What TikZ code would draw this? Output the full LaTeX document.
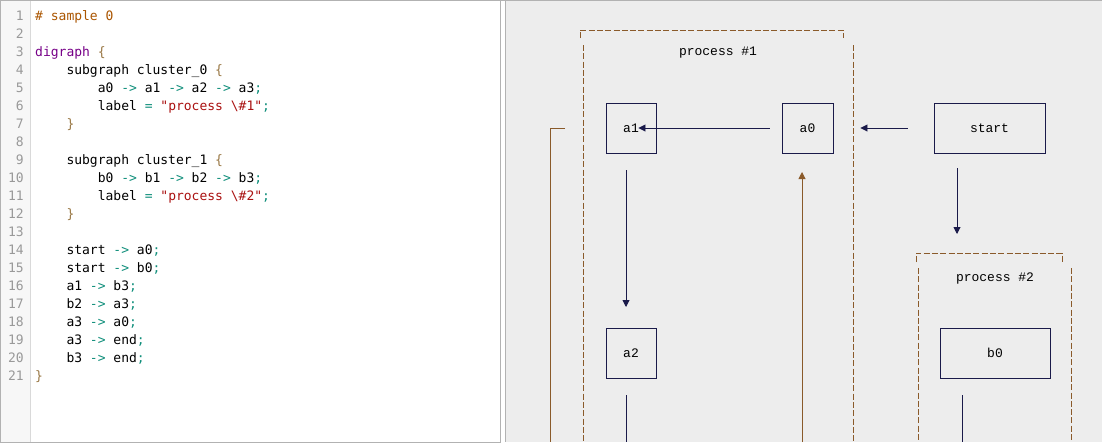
\documentclass[tikz,border=0pt]{standalone}
\usepackage{fontspec}
\setmonofont{DejaVu Sans Mono}
\newfontfamily\artfont{Liberation Mono}
\usetikzlibrary{arrows.meta}
\definecolor{cmt}{HTML}{AA5500}
\definecolor{kw}{HTML}{770088}
\definecolor{brc}{HTML}{997744}
\definecolor{op}{HTML}{0E8E7A}
\definecolor{str}{HTML}{AA1111}
\definecolor{gut}{HTML}{999999}
\definecolor{ink}{HTML}{1A1A4A}
\definecolor{brn}{HTML}{8A5A2A}
\tikzset{
 code/.style={anchor=base west,inner sep=0pt,font=\ttfamily\fontsize{13}{13}\selectfont},
 lnum/.style={anchor=base east,inner sep=0pt,text=gut,font=\ttfamily\fontsize{13}{13}\selectfont},
 art/.style={inner sep=0pt,font=\artfont\fontsize{13}{13}\selectfont},
 nbox/.style={draw=ink,line width=0.9pt,art},
 edge/.style={draw=ink,line width=0.9pt},
 lng/.style={draw=brn,line width=0.9pt},
 clus/.style={draw=brn,line width=0.8pt,dash pattern=on 6pt off 2.3pt},
 tip/.style={-{Triangle[length=7pt,width=7pt]}}
}
\begin{document}
\begin{tikzpicture}[x=1pt,y=-1pt]
\useasboundingbox (0,0) rectangle (1102,442);
% editor
\fill[white] (0,0) rectangle (500,442);
\fill[gray!6] (0,0) rectangle (30,442);
\draw[gray!30] (30,0) -- (30,442);
\draw[gray!60] (0.5,0.5) rectangle (500,442);
\foreach \n in {1,...,21}{\node[lnum] (ln\n) at (24,{20+(\n-1)*18}) {\n};}
\newcommand\cl[2]{\node[code] at (35,{20+(#1-1)*18}) {#2};}
\cl{1}{\textcolor{cmt}{\# sample 0}}
\cl{3}{\textcolor{kw}{digraph} \textcolor{brc}{\{}}
\cl{4}{\ \ \ \ subgraph cluster\_0 \textcolor{brc}{\{}}
\cl{5}{\ \ \ \ \ \ \ \ a0 \textcolor{op}{->} a1 \textcolor{op}{->} a2 \textcolor{op}{->} a3\textcolor{op}{;}}
\cl{6}{\ \ \ \ \ \ \ \ label \textcolor{op}{=} \textcolor{str}{"process \textbackslash\#1"}\textcolor{op}{;}}
\cl{7}{\ \ \ \ \textcolor{brc}{\}}}
\cl{9}{\ \ \ \ subgraph cluster\_1 \textcolor{brc}{\{}}
\cl{10}{\ \ \ \ \ \ \ \ b0 \textcolor{op}{->} b1 \textcolor{op}{->} b2 \textcolor{op}{->} b3\textcolor{op}{;}}
\cl{11}{\ \ \ \ \ \ \ \ label \textcolor{op}{=} \textcolor{str}{"process \textbackslash\#2"}\textcolor{op}{;}}
\cl{12}{\ \ \ \ \textcolor{brc}{\}}}
\cl{14}{\ \ \ \ start \textcolor{op}{->} a0\textcolor{op}{;}}
\cl{15}{\ \ \ \ start \textcolor{op}{->} b0\textcolor{op}{;}}
\cl{16}{\ \ \ \ a1 \textcolor{op}{->} b3\textcolor{op}{;}}
\cl{17}{\ \ \ \ b2 \textcolor{op}{->} a3\textcolor{op}{;}}
\cl{18}{\ \ \ \ a3 \textcolor{op}{->} a0\textcolor{op}{;}}
\cl{19}{\ \ \ \ a3 \textcolor{op}{->} end\textcolor{op}{;}}
\cl{20}{\ \ \ \ b3 \textcolor{op}{->} end\textcolor{op}{;}}
\cl{21}{\textcolor{brc}{\}}}
% art panel
\fill[gray!14] (505,0) rectangle (1102,442);
\draw[gray!60] (500,0.5) -- (1102,0.5);
\draw[gray!60] (505,0) -- (505,442);
% clusters
\draw[clus] (580,38) -- (580,30) -- (843,30) -- (843,38);
\draw[clus] (583,45) -- (583,442);
\draw[clus] (853,45) -- (853,442);
\node[art] (p1) at (718,53) {process \#1};
\draw[clus] (916,262) -- (916,253) -- (1062,253) -- (1062,262);
\draw[clus] (918,268) -- (918,442);
\draw[clus] (1071,268) -- (1071,442);
\node[art] (p2) at (995,278) {process \#2};
% boxes
\node[nbox,minimum width=50pt,minimum height=50pt] (a1) at (631,128) {a1};
\node[nbox,minimum width=51pt,minimum height=50pt] (a0) at (807.5,128) {a0};
\node[nbox,minimum width=111pt,minimum height=50pt] (start) at (989.5,128) {start};
\node[nbox,minimum width=50pt,minimum height=50pt] (a2) at (631,353) {a2};
\node[nbox,minimum width=110pt,minimum height=50pt] (b0) at (995,353) {b0};
% edges
\draw[edge,tip] (a0.west) ++(-12,0) coordinate (e1) (e1) -- ([xshift=-18pt]a1.east);
\draw[edge,tip] ([xshift=-26pt]start.west) -- ([xshift=27pt]a0.east);
\coordinate (a1d) at ([yshift=17pt]a1.south -| 626,0);
\draw[edge,tip] (626,170) -- (626,307);
\draw[edge] (626,395) -- (626,442);
\draw[lng,tip] (802,442) -- (802,172);
\draw[edge,tip] (957,168) -- (957,234);
\draw[edge] (962,395) -- (962,442);
\draw[lng] (565,128) -- (550,128) -- (550,442);
\end{tikzpicture}
\end{document}
